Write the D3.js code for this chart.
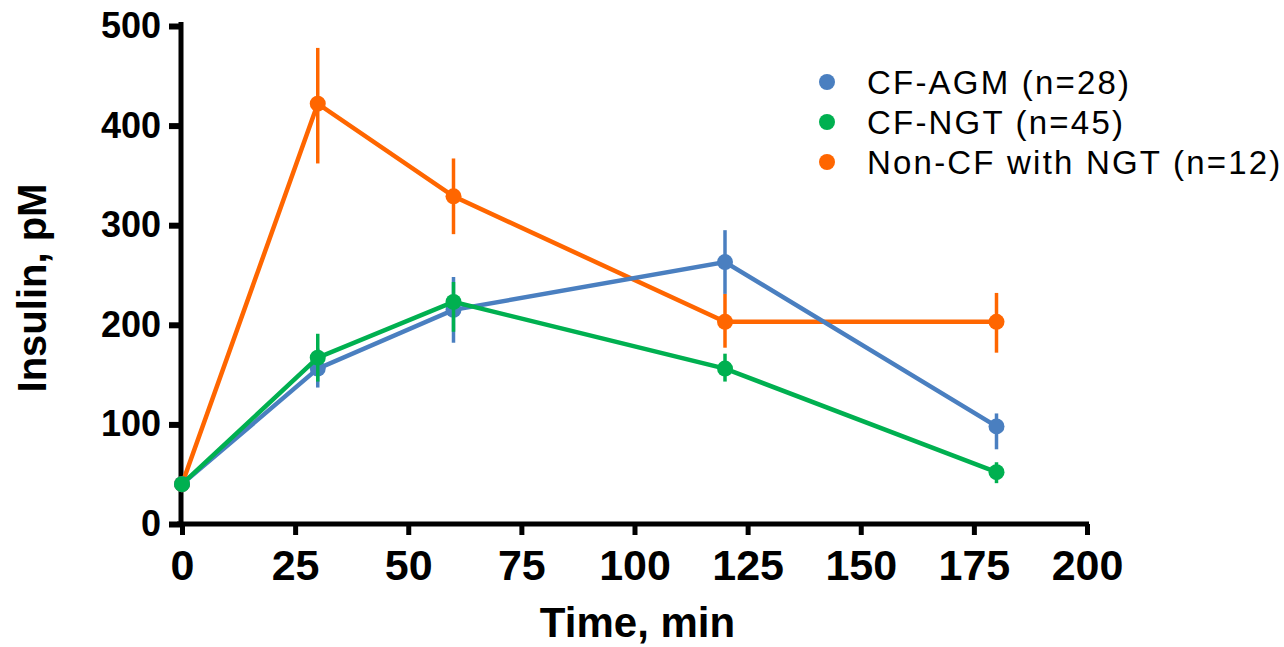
<!DOCTYPE html>
<html>
<head>
<meta charset="utf-8">
<script src="https://cdn.jsdelivr.net/npm/d3@7"></script>
<style>
  body { margin: 0; background: #fff; }
  text { font-family: "Liberation Sans", Arial, sans-serif; }
</style>
</head>
<body>
<div id="chart"></div>
<script>
// data
const times = [0, 30, 60, 120, 180];
const seriesNames = ['CF-AGM (n=28)', 'CF-NGT (n=45)', 'Non-CF with NGT (n=12)'];
const seriesColors = ['#4a7fc0', '#00b050', '#ff6600'];

const agmMean = [40, 156, 215, 263, 98];
const agmLow  = [40, 137, 182, 231, 75];
const agmHigh = [40, 176, 248, 295, 111];

const ngtMean = [40, 167, 223, 156, 52];
const ngtLow  = [40, 143, 193, 143, 41];
const ngtHigh = [40, 191, 243, 171, 62];

const nonMean = [40, 422, 329, 203, 203];
const nonLow  = [40, 362, 291, 177, 172];
const nonHigh = [40, 478, 367, 231, 232];

const xTicks = [0, 25, 50, 75, 100, 125, 150, 175, 200];
const yTicks = [0, 100, 200, 300, 400, 500];

const width = 1284, height = 647;
const margin = {top: 26, right: 197, bottom: 123, left: 182};

const svg = d3.select('#chart').append('svg')
  .attr('width', width)
  .attr('height', height);

const x = d3.scaleLinear().domain([0, 200]).range([margin.left, width - margin.right]);
const y = d3.scaleLinear().domain([0, 500]).range([height - margin.bottom, margin.top]);

// y axis
const yAxisG = svg.append('g')
  .attr('transform', `translate(${margin.left - 1},0)`)
  .call(d3.axisLeft(y).tickValues(yTicks).tickSize(12).tickSizeOuter(0).tickPadding(8));
yAxisG.select('.domain').attr('stroke', '#000').attr('stroke-width', 5)
  .attr('d', `M0,${y(0) + 2}V${y(500) - 4}`);
yAxisG.selectAll('.tick line').attr('stroke', '#000').attr('stroke-width', 6);
yAxisG.selectAll('.tick text')
  .attr('font-size', 36).attr('font-weight', 'bold').attr('fill', '#000')
  .attr('font-family', '"Liberation Sans", Arial, sans-serif');

// x axis
const xAxisG = svg.append('g')
  .attr('transform', `translate(0,${y(0)})`)
  .call(d3.axisBottom(x).tickValues(xTicks).tickSize(11).tickSizeOuter(0).tickPadding(14));
xAxisG.select('.domain').attr('stroke', '#000').attr('stroke-width', 5)
  .attr('d', `M${x(0) - 5},0H${x(200) + 2}`);
xAxisG.selectAll('.tick line').attr('stroke', '#000').attr('stroke-width', 5);
xAxisG.selectAll('.tick text')
  .attr('font-size', 43).attr('font-weight', 'bold').attr('fill', '#000')
  .attr('font-family', '"Liberation Sans", Arial, sans-serif');

// axis titles
svg.append('text')
  .attr('x', (x(0) + x(200)) / 2 + 3)
  .attr('y', 637)
  .attr('text-anchor', 'middle')
  .attr('font-size', 42).attr('font-weight', 'bold')
  .text('Time, min');

svg.append('text')
  .attr('transform', `translate(46,${288}) rotate(-90)`)
  .attr('text-anchor', 'middle')
  .attr('font-size', 40).attr('font-weight', 'bold')
  .text('Insulin, pM');

// series, drawn bottom to top: orange, blue, green
const series = [
  {name: seriesNames[2], color: seriesColors[2], mean: nonMean, low: nonLow, high: nonHigh},
  {name: seriesNames[0], color: seriesColors[0], mean: agmMean, low: agmLow, high: agmHigh},
  {name: seriesNames[1], color: seriesColors[1], mean: ngtMean, low: ngtLow, high: ngtHigh}
];

const line = d3.line()
  .x(d => x(d.t))
  .y(d => y(d.v));

series.forEach(s => {
  const pts = times.map((t, i) => ({t: t, v: s.mean[i], lo: s.low[i], hi: s.high[i]}));
  const g = svg.append('g');

  g.selectAll('line.err')
    .data(pts)
    .join('line')
    .attr('class', 'err')
    .attr('x1', d => x(d.t)).attr('x2', d => x(d.t))
    .attr('y1', d => y(d.lo)).attr('y2', d => y(d.hi))
    .attr('stroke', s.color)
    .attr('stroke-width', 3.5);

  g.append('path')
    .attr('d', line(pts))
    .attr('fill', 'none')
    .attr('stroke', s.color)
    .attr('stroke-width', 4.5);

  g.selectAll('circle')
    .data(pts)
    .join('circle')
    .attr('cx', d => x(d.t))
    .attr('cy', d => y(d.v))
    .attr('r', 8)
    .attr('fill', s.color);
});

// legend
const legend = svg.append('g').attr('transform', 'translate(827,82)');
seriesNames.forEach((name, i) => {
  const row = legend.append('g').attr('transform', `translate(0,${i * 40})`);
  row.append('circle').attr('r', 8).attr('fill', seriesColors[i]);
  row.append('text')
    .attr('x', 40)
    .attr('dy', '0.35em')
    .attr('font-size', 33)
    .attr('letter-spacing', 2.2)
    .attr('fill', '#000')
    .text(name);
});
</script>
</body>
</html>
